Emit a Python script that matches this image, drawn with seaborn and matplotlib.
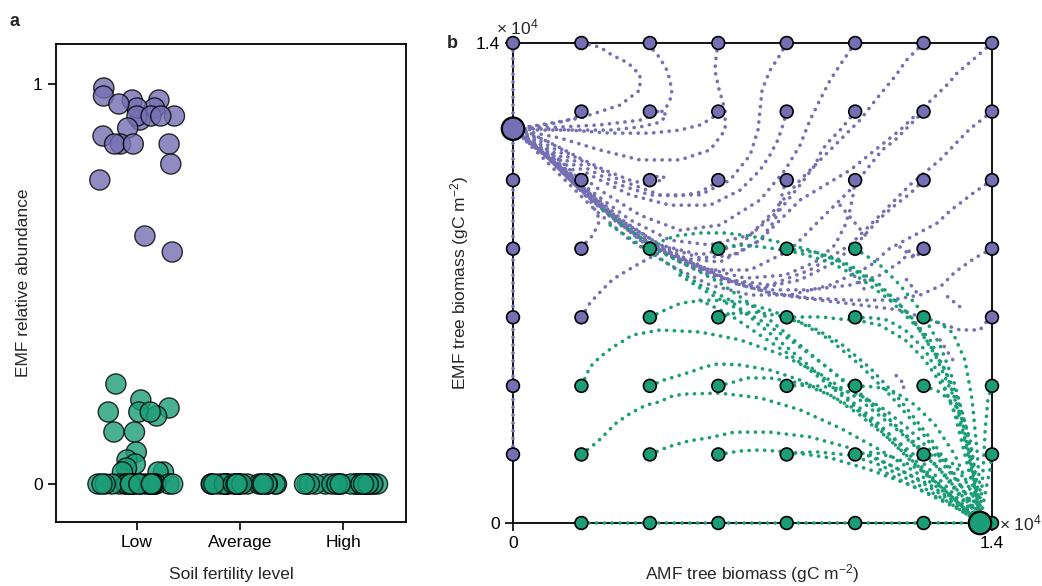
import numpy as np
import pandas as pd
import matplotlib.pyplot as plt
import seaborn as sns

sns.set_style("ticks")
plt.rcParams['font.family'] = ['Liberation Sans', 'DejaVu Sans']
plt.rcParams['mathtext.default'] = 'regular'
plt.rcParams['font.size'] = 12.5

purple = "#7570b3"
green = "#1b9e77"
pal = {"EMF": purple, "AMF": green}

# ---- panel a: EMF relative abundance per soil fertility level
fertility_levels = ["Low", "Average", "High"]
low_values = [0.99, 0.96, 0.96, 0.94, 0.92, 0.91, 0.94, 0.97, 0.95, 0.92, 0.92,
              0.92, 0.89, 0.87, 0.85, 0.85, 0.85, 0.85, 0.80, 0.76, 0.62, 0.58,
              0.25, 0.21, 0.19, 0.18, 0.18, 0.17, 0.18, 0.13, 0.13, 0.08, 0.06,
              0.05, 0.04, 0.03, 0.03, 0.03] + [0.0] * 25
average_values = [0.0] * 24
high_values = [0.0] * 24

# ---- panel b: trajectories (thousand gC m-2), (AMF, EMF)
ic_levels = [0, 2, 4, 6, 8, 10, 12, 14]
# outcome of each initial condition, rows from EMF=14 down to EMF=0
ic_rows = ["EEEEEEEE",
           ".EEEEEEE",
           "EEEEEEEE",
           "EEAAAAEE",
           "EEAAAAAE",
           "EAAAAAAA",
           "EAAAAAAA",
           ".AAAAAAA"]
emf_eq = (0.0, 11.5)
amf_eq = (13.65, 0.0)

emf_paths = [
    [(14, 14), (13.5, 13.56), (12.92, 13.07), (12.77, 12.86), (11.31, 11.46), (9.85, 10.29), (8.39, 9.42),
     (7.22, 8.25), (6.05, 7.61), (4.88, 7.73), (3.71, 8.25), (2.54, 9.27), (1.67, 10.15), (0.79, 10.88), (0, 11.5)],
    [(12, 14), (11.5, 13.5), (11.2, 13.07), (10.6, 12.34), (10.14, 11.75), (9.27, 10.88), (8.39, 10.0),
     (7.51, 8.98), (6.64, 8.11), (5.47, 7.82), (4.3, 8.11), (3.13, 8.84), (1.96, 9.86), (0.94, 10.73), (0, 11.5)],
    [(10, 14), (9.56, 13.36), (9.27, 12.92), (8.97, 12.34), (8.68, 11.75), (8.39, 11.02), (7.95, 10.29),
     (7.22, 9.42), (6.05, 8.69), (4.88, 8.54), (3.71, 8.98), (2.54, 9.71), (1.37, 10.59), (0, 11.5)],
    [(8, 14), (7.8, 13.65), (7.51, 13.2), (7.28, 12.63), (7.22, 12.04), (7.16, 11.46), (6.93, 10.73),
     (6.34, 10.0), (5.47, 9.57), (4.3, 9.57), (3.13, 10.0), (1.96, 10.59), (0.94, 11.17), (0, 11.5)],
    [(6, 14), (5.94, 13.65), (5.9, 13.2), (6.02, 12.66), (6.2, 12.04), (6.2, 11.46), (5.76, 10.88),
     (4.88, 10.59), (3.71, 10.59), (2.54, 10.88), (1.37, 11.23), (0, 11.5)],
    [(4, 14), (4.09, 13.8), (4.23, 13.65), (4.47, 13.27), (4.59, 12.92), (4.65, 12.48), (4.44, 12.04),
     (3.71, 11.75), (2.54, 11.61), (1.37, 11.55), (0, 11.5)],
    [(2, 14), (2.54, 13.88), (2.89, 13.65), (3.36, 13.42), (3.71, 13.07), (3.71, 12.63), (3.13, 12.19),
     (1.96, 11.81), (0.79, 11.61), (0, 11.5)],
    [(14, 12), (13.36, 11.5), (12.97, 11.1), (12.48, 10.59), (11.6, 9.86), (10.73, 8.98), (9.85, 8.11),
     (8.68, 7.38), (7.51, 6.94), (6.34, 7.09), (5.17, 7.52), (4.0, 8.11), (2.84, 8.98), (1.81, 9.86),
     (0.94, 10.73), (0, 11.5)],
    [(12, 12), (11.6, 11.61), (11.17, 11.17), (10.79, 10.88), (10.44, 10.44), (9.85, 9.71), (8.97, 8.84),
     (8.1, 7.96), (6.93, 7.38), (5.76, 7.38), (4.59, 7.82), (3.42, 8.54), (2.4, 9.42), (1.37, 10.44),
     (0.5, 11.17), (0, 11.5)],
    [(10, 12), (9.85, 11.81), (9.56, 11.46), (9.27, 11.17), (9.03, 10.88), (8.83, 10.44), (8.39, 9.86),
     (7.8, 9.13), (6.93, 8.4), (5.76, 8.11), (4.59, 8.25), (3.42, 8.84), (2.25, 9.71), (1.23, 10.59), (0, 11.5)],
    [(8, 12), (7.89, 11.61), (7.74, 11.17), (7.51, 10.73), (7.22, 10.29), (6.64, 9.71), (5.76, 9.27),
     (4.59, 9.27), (3.42, 9.57), (2.25, 10.15), (1.08, 10.88), (0, 11.5)],
    [(6, 12), (5.82, 11.81), (5.47, 11.61), (4.88, 11.46), (4.0, 11.37), (2.84, 11.37), (1.67, 11.46),
     (0.79, 11.46), (0, 11.5)],
    [(4, 12), (4.3, 12.0), (4.5, 11.9), (4.3, 11.69), (3.71, 11.55), (2.84, 11.46), (1.81, 11.46),
     (0.79, 11.49), (0, 11.5)],
    [(2, 12), (1.81, 11.81), (1.37, 11.69), (0.79, 11.58), (0, 11.5)],
    [(14, 10), (13.42, 9.6), (12.77, 9.1), (12.4, 8.75), (11.0, 8.0), (10.44, 7.5), (9.27, 6.94),
     (8.1, 6.65), (6.93, 6.65), (5.76, 6.94), (4.59, 7.52), (3.42, 8.25), (2.4, 9.13), (1.37, 10.15),
     (0.5, 11.02), (0, 11.5)],
    [(12, 10), (11.6, 9.6), (11.2, 9.3), (10.8, 8.95), (10.6, 8.75), (10.14, 8.25), (9.41, 7.61),
     (8.39, 7.09), (7.22, 6.85), (6.05, 7.09), (4.88, 7.61), (3.71, 8.31), (2.54, 9.27), (1.52, 10.24),
     (0.64, 11.02), (0, 11.5)],
    [(10, 10), (9.94, 9.57), (9.85, 9.13), (9.71, 8.69), (9.41, 8.11), (8.83, 7.61), (7.95, 7.23),
     (6.78, 7.14), (5.61, 7.44), (4.44, 8.02), (3.27, 8.78), (2.25, 9.65), (1.23, 10.59), (0, 11.5)],
    [(8, 10), (7.89, 9.71), (7.8, 9.27), (7.66, 8.84), (7.22, 8.25), (6.49, 7.82), (5.47, 7.73),
     (4.3, 8.11), (3.13, 8.84), (2.1, 9.71), (1.08, 10.64), (0, 11.5)],
    [(6, 10), (5.82, 9.86), (5.47, 9.65), (4.88, 9.54), (4.0, 9.57), (3.13, 9.86), (2.25, 10.29),
     (1.37, 10.82), (0.64, 11.23), (0, 11.5)],
    [(4, 10), (4.3, 10.15), (4.44, 10.06), (4.0, 9.86), (3.42, 10.0), (2.69, 10.29), (1.96, 10.64),
     (1.23, 11.02), (0.5, 11.37), (0, 11.5)],
    [(2, 10), (1.81, 10.15), (1.52, 10.44), (1.08, 10.82), (0.64, 11.17), (0, 11.5)],
    [(14, 8), (13.5, 7.73), (12.92, 7.32), (12.54, 6.94), (11.9, 6.65), (11.02, 6.5), (9.85, 6.5),
     (8.68, 6.56), (7.51, 6.71), (6.34, 7.03), (5.17, 7.52), (4.0, 8.11), (2.98, 8.84), (1.96, 9.71),
     (1.02, 10.64), (0, 11.5)],
    [(12, 8), (11.75, 7.73), (11.6, 7.96), (11.4, 7.67), (10.73, 7.23), (9.85, 6.94), (8.68, 6.8),
     (7.51, 6.8), (6.34, 7.09), (5.17, 7.61), (4.0, 8.19), (2.84, 8.98), (1.81, 9.86), (0.94, 10.73), (0, 11.5)],
    [(2, 8), (2.14, 8.19), (2.34, 8.4), (2.54, 8.84), (2.25, 9.42), (1.67, 10.09), (1.02, 10.67),
     (0.44, 11.1), (0, 11.5)],
    [(14, 6), (13.8, 5.83), (13.65, 5.63), (13.07, 5.63), (12.19, 5.92), (11.31, 6.21), (10.14, 6.36),
     (8.97, 6.5), (7.8, 6.65), (6.64, 6.94), (5.47, 7.44), (4.3, 7.96), (3.13, 8.69), (2.1, 9.57),
     (1.08, 10.59), (0, 11.5)],
    [(2, 6), (2.25, 6.42), (2.54, 6.73), (2.92, 7.11), (3.27, 7.32), (3.57, 7.5), (3.99, 7.73),
     (4.3, 7.9), (3.71, 8.25), (2.84, 8.98), (1.96, 9.8), (1.08, 10.64), (0, 11.5)],
    [(0, 2), (0, 4), (0, 6), (0, 8), (0, 10), (0, 11.5)],
    [(0, 14), (0, 13), (0, 12), (0, 11.5)],
]
# short purple streaks in the mixed region
emf_streaks = [
    [(9.56, 9.27), (10.29, 8.4)],
    [(11.31, 8.05), (11.81, 7.67)],
    [(9.85, 7.38), (10.35, 6.71)],
    [(11.5, 7.1), (11.81, 6.71)],
    [(12.48, 5.34), (12.86, 4.75)],
    [(12.7, 6.6), (13.07, 6.3)],
    [(11.2, 4.3), (11.46, 4.02), (11.3, 3.8)],
]

amf_paths = [
    [(4, 8), (4.3, 8.2), (4.74, 8.37), (5.47, 8.46), (6.2, 8.46), (6.93, 8.37), (7.8, 8.19), (8.68, 7.96),
     (9.56, 7.61), (10.44, 7.09), (11.31, 6.36), (12.19, 5.34), (12.92, 3.85), (13.36, 2.42), (13.59, 0.96), (13.65, 0)],
    [(6, 8), (6.34, 8.08), (6.78, 8.11), (7.51, 8.02), (8.39, 7.87), (9.27, 7.61), (10.14, 7.14), (11.02, 6.5),
     (11.9, 5.63), (12.63, 4.46), (13.13, 2.98), (13.42, 1.55), (13.65, 0)],
    [(8, 8), (8.57, 7.93), (8.97, 7.87), (9.85, 7.52), (10.73, 6.94), (11.6, 6.07), (12.34, 4.9), (12.92, 3.59),
     (13.3, 2.13), (13.56, 0.82), (13.65, 0)],
    [(10, 8), (10.29, 7.82), (10.73, 7.52), (11.31, 6.94), (11.9, 6.21), (12.48, 5.19), (12.92, 4.02),
     (13.27, 2.71), (13.5, 1.25), (13.65, 0)],
    [(4, 6), (4.44, 6.21), (4.85, 6.39), (5.15, 6.45), (5.76, 6.5), (6.64, 6.45), (7.51, 6.21), (8.39, 5.86),
     (9.27, 5.34), (10.14, 4.61), (11.02, 3.73), (11.9, 2.71), (12.77, 1.55), (13.36, 0.67), (13.65, 0)],
    [(6, 6), (6.49, 6.12), (7.08, 6.15), (7.8, 6.04), (8.68, 5.75), (9.56, 5.25), (10.44, 4.52), (11.31, 3.59),
     (12.19, 2.48), (12.92, 1.4), (13.42, 0.52), (13.65, 0)],
    [(8, 6), (8.57, 6.01), (9.03, 6.01), (9.53, 5.95), (10.03, 5.92), (10.73, 5.77), (11.46, 5.34), (12.04, 4.75),
     (12.63, 3.88), (13.07, 2.86), (13.36, 1.69), (13.56, 0.67), (13.65, 0)],
    [(10, 6), (10.53, 5.98), (10.94, 5.92), (11.46, 5.63), (12.04, 5.05), (12.54, 4.17), (12.92, 3.15),
     (13.21, 1.98), (13.5, 0.82), (13.65, 0)],
    [(12, 6), (12.48, 5.83), (12.86, 5.54), (13.21, 4.75), (13.42, 3.59), (13.56, 2.13), (13.65, 0.96), (13.65, 0)],
    [(2, 4), (2.25, 4.55), (2.54, 4.84), (2.92, 5.13), (3.27, 5.34), (3.48, 5.48), (4.3, 5.63), (5.47, 5.57),
     (6.64, 5.34), (7.8, 4.93), (8.97, 4.35), (10.14, 3.59), (11.31, 2.65), (12.48, 1.55), (13.36, 0.52), (13.65, 0)],
    [(4, 4), (4.41, 4.17), (4.91, 4.32), (5.26, 4.43), (5.58, 4.55), (5.99, 4.64), (6.64, 4.61), (7.51, 4.46),
     (8.39, 4.17), (9.27, 3.73), (10.14, 3.15), (11.02, 2.42), (11.9, 1.6), (12.77, 0.82), (13.65, 0)],
    [(6, 4), (6.44, 4.11), (6.84, 4.23), (7.51, 4.23), (8.39, 4.08), (9.27, 3.73), (10.14, 3.24), (11.02, 2.57),
     (11.9, 1.84), (12.77, 0.96), (13.65, 0)],
    [(8, 4), (8.68, 4.02), (9.41, 3.94), (10.14, 3.73), (10.88, 3.3), (11.6, 2.71), (12.34, 1.98), (13.07, 1.11),
     (13.65, 0)],
    [(10, 4), (10.59, 3.97), (11.17, 3.82), (11.75, 3.44), (12.34, 2.86), (12.92, 1.98), (13.36, 0.96), (13.65, 0)],
    [(12, 4), (12.48, 3.82), (12.92, 3.44), (13.21, 2.86), (13.42, 1.98), (13.56, 0.96), (13.65, 0)],
    [(14, 4), (13.88, 3.59), (13.8, 2.71), (13.74, 1.55), (13.68, 0.67), (13.65, 0)],
    [(2, 2), (2.46, 2.36), (3.02, 2.92), (3.45, 3.21), (3.89, 3.44), (4.27, 3.53), (4.65, 3.7), (5.0, 3.76),
     (6.02, 3.79), (7.22, 3.65), (8.39, 3.3), (9.56, 2.77), (10.73, 2.13), (11.9, 1.4), (12.92, 0.67), (13.65, 0)],
    [(4, 2), (4.53, 2.22), (5.12, 2.39), (5.7, 2.48), (6.46, 2.65), (7.51, 2.65), (8.68, 2.51), (9.85, 2.19),
     (11.02, 1.69), (12.19, 1.11), (13.07, 0.52), (13.65, 0)],
    [(6, 2), (6.64, 2.1), (7.22, 2.13), (8.1, 2.07), (9.27, 1.9), (10.44, 1.55), (11.6, 1.11), (12.77, 0.58), (13.65, 0)],
    [(8, 2), (8.6, 2.07), (8.92, 2.07), (9.85, 1.98), (10.73, 1.69), (11.6, 1.25), (12.63, 0.67), (13.65, 0)],
    [(10, 2), (10.53, 2.07), (11.17, 1.9), (11.9, 1.55), (12.77, 0.82), (13.65, 0)],
    [(12, 2), (12.48, 1.95), (12.92, 1.69), (13.3, 1.11), (13.56, 0.52), (13.65, 0)],
    [(14, 2), (13.94, 1.55), (13.82, 0.96), (13.71, 0.38), (13.65, 0)],
    [(2, 0), (4, 0), (6, 0), (8, 0), (10, 0), (12, 0), (13.65, 0)],
    [(14, 0), (13.65, 0)],
    # bundle along the unstable direction
    [(2.63, 9.13), (3.13, 8.75), (3.71, 8.34), (4.21, 7.96), (4.88, 7.61), (5.47, 7.32), (6.05, 7.0), (6.78, 6.5),
     (7.51, 5.92), (8.39, 5.19), (9.27, 4.46), (10.14, 3.73), (11.02, 3.0), (11.9, 2.19), (12.77, 1.25), (13.65, 0)],
    [(2.84, 8.69), (3.71, 8.11), (4.59, 7.52), (5.47, 6.94), (6.34, 6.5), (7.22, 5.77), (8.1, 5.05), (8.97, 4.32),
     (9.85, 3.59), (10.73, 2.86), (11.6, 1.98), (12.48, 1.11), (13.21, 0.44), (13.65, 0)],
    [(4.88, 7.23), (5.47, 6.85), (6.34, 6.36), (7.22, 5.92), (8.1, 5.34), (8.97, 4.7), (9.85, 4.02), (10.73, 3.3),
     (11.6, 2.42), (12.48, 1.55), (13.65, 0)],
    [(5.47, 6.5), (6.34, 6.07), (7.22, 5.48), (8.1, 4.9), (8.97, 4.23), (9.85, 3.53), (10.73, 2.71), (11.6, 1.84),
     (12.63, 0.96), (13.65, 0)],
    [(10.73, 1.55), (11.9, 0.96), (13.07, 0.38), (13.65, 0)],
    [(10.44, 1.98), (11.6, 1.4), (12.77, 0.67), (13.65, 0)],
]

# ---- tables
df_a = pd.DataFrame({
    "level": ["Low"] * len(low_values) + ["Average"] * len(average_values) + ["High"] * len(high_values),
    "value": low_values + average_values + high_values,
})
df_a["dominant"] = np.where(df_a["value"] > 0.5, "EMF", "AMF")

rows = []
for group, paths in [("EMF", emf_paths + emf_streaks), ("AMF", amf_paths)]:
    for k, path in enumerate(paths):
        for j, (x, y) in enumerate(path):
            rows.append({"traj": f"{group}{k}", "outcome": group, "step": j, "amf": x * 1000, "emf": y * 1000})
df_traj = pd.DataFrame(rows)

ic = []
for r, line in enumerate(ic_rows):
    for c, s in enumerate(line):
        if s != ".":
            ic.append({"amf": ic_levels[c] * 1000, "emf": ic_levels[::-1][r] * 1000,
                       "outcome": "EMF" if s == "E" else "AMF"})
df_ic = pd.DataFrame(ic)
df_eq = pd.DataFrame({"amf": [emf_eq[0] * 1000, amf_eq[0] * 1000],
                      "emf": [emf_eq[1] * 1000, amf_eq[1] * 1000],
                      "outcome": ["EMF", "AMF"]})

# ---- figure
fig = plt.figure(figsize=(10.42, 5.86), dpi=100)
ax1 = fig.add_axes([56 / 1042, 1 - 522 / 586, 350 / 1042, 478 / 586])
ax2 = fig.add_axes([513 / 1042, 1 - 523 / 586, 479 / 1042, 480 / 586])

np.random.seed(7)
sns.stripplot(data=df_a, x="level", y="value", hue="dominant", order=fertility_levels,
              hue_order=["AMF", "EMF"], palette=pal, jitter=0.38, size=14.5,
              linewidth=1, edgecolor="black", alpha=0.8, legend=False, ax=ax1)
ax1.set_xlim(-0.786, 2.61)
ax1.set_ylim(-0.095, 1.1)
ax1.set_yticks([0, 1])
ax1.set_yticklabels(["0", "1"])
ax1.set_xlabel("Soil fertility level")
ax1.set_ylabel("EMF relative abundance")
ax1.xaxis.set_label_coords(0.5, -0.095)
ax1.yaxis.set_label_coords(-0.07, 0.5)

sns.lineplot(data=df_traj, x="amf", y="emf", hue="outcome", units="traj", estimator=None,
             sort=False, palette=pal, legend=False, ax=ax2, linewidth=2.6,
             linestyle=(0, (0.05, 2.1)), dash_capstyle="round", clip_on=False, zorder=3)
sns.scatterplot(data=df_ic, x="amf", y="emf", hue="outcome", palette=pal, s=85,
                edgecolor="black", linewidth=1.2, legend=False, ax=ax2, clip_on=False, zorder=4)
sns.scatterplot(data=df_eq, x="amf", y="emf", hue="outcome", palette=pal, s=260,
                edgecolor="black", linewidth=1.6, legend=False, ax=ax2, clip_on=False, zorder=5)
ax2.set_xlim(0, 14000)
ax2.set_ylim(0, 14000)
ax2.set_xticks([0, 14000])
ax2.set_xticklabels(["0", "1.4"])
ax2.set_yticks([0, 14000])
ax2.set_yticklabels(["0", "1.4"])
ax2.set_xlabel("AMF tree biomass (gC m$^{-2}$)")
ax2.set_ylabel("EMF tree biomass (gC m$^{-2}$)")
ax2.xaxis.set_label_coords(0.5, -0.082)
ax2.yaxis.set_label_coords(-0.088, 0.5)
ax2.text(0.01, 1.012, "× 10$^4$", transform=ax2.transAxes, ha="center", va="bottom")
ax2.text(1.015, 0.0, "× 10$^4$", transform=ax2.transAxes, ha="left", va="center")

for ax in (ax1, ax2):
    for sp in ax.spines.values():
        sp.set_linewidth(1.3)
        sp.set_color("black")
    ax.tick_params(direction="out", length=6, width=1.2, colors="black", labelsize=12.5)

fig.text(15 / 1042, 1 - 22 / 586, "a", weight="bold", size=13, va="center", ha="center")
fig.text(452 / 1042, 1 - 44 / 586, "b", weight="bold", size=13, va="center", ha="center")

plt.savefig("out.png", dpi=100)
